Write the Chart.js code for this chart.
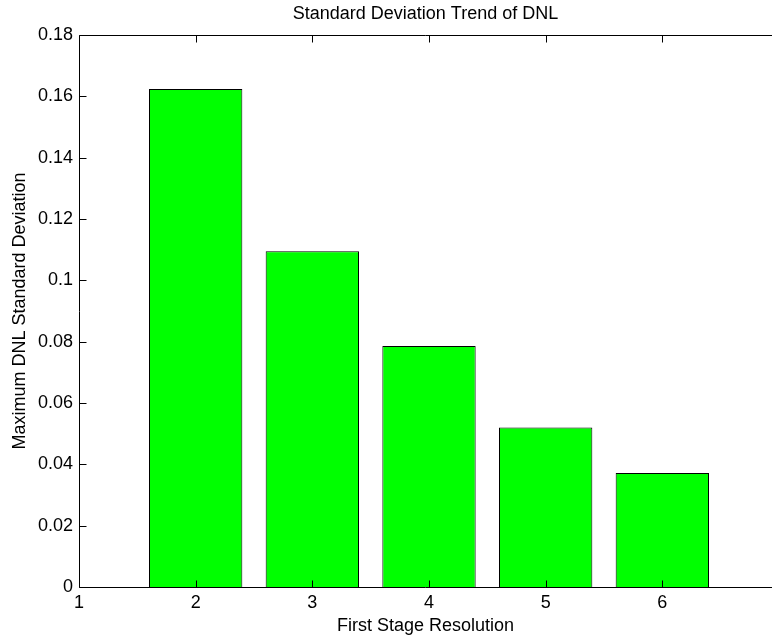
<!DOCTYPE html>
<html>
<head>
<meta charset="utf-8">
<script src="https://cdn.jsdelivr.net/npm/chart.js@4/dist/chart.umd.min.js"></script>
<style>
    html, body { margin: 0; padding: 0; background: #fff; overflow: hidden; }
    #wrap { position: absolute; left: 0; top: 0; width: 772px; height: 641px; }
</style>
</head>
<body>
<div id="wrap"><canvas id="chart" width="772" height="641"></canvas></div>
<script>
const resolutions = [2, 3, 4, 5, 6];
const dnlStdDev = [0.1624, 0.1095, 0.0786, 0.0520, 0.0372];
const xTicks = [1, 2, 3, 4, 5, 6];
const yTicks = [0, 0.02, 0.04, 0.06, 0.08, 0.1, 0.12, 0.14, 0.16, 0.18];

const fontFamily = '"Liberation Sans", Arial, Helvetica, sans-serif';
const fontSize = 18;
const xMin = 1, xMax = 6.94; // axes run to 7, just past the right edge of the picture

// MATLAB style axes with inward ticks; the right side of the box is off the picture
const boxAxes = {
    id: 'boxAxes',
    afterDatasetsDraw(chart) {
        const { ctx, chartArea: a, scales: { x, y } } = chart;
        const tick = 7;
        const L = Math.round(a.left) + 0.5;
        const T = Math.round(a.top) + 0.5, B = Math.round(a.bottom) + 0.5;
        const W = chart.width;
        ctx.save();
        ctx.strokeStyle = '#000';
        ctx.lineWidth = 1;
        ctx.beginPath();
        ctx.moveTo(W, T); ctx.lineTo(L, T); ctx.lineTo(L, B); ctx.lineTo(W, B);
        xTicks.forEach(v => {
            const px = Math.round(x.getPixelForValue(v)) + 0.5;
            ctx.moveTo(px, B); ctx.lineTo(px, B - tick);
            ctx.moveTo(px, T); ctx.lineTo(px, T + tick);
        });
        yTicks.forEach(v => {
            const py = Math.round(y.getPixelForValue(v)) + 0.5;
            ctx.moveTo(L, py); ctx.lineTo(L + tick, py);
        });
        ctx.stroke();
        ctx.restore();
    }
};

new Chart(document.getElementById('chart'), {
    type: 'bar',
    data: {
        datasets: [{
            data: resolutions.map((r, i) => ({ x: r, y: dnlStdDev[i] })),
            backgroundColor: '#00ff00',
            borderColor: '#000000',
            borderWidth: 1,
            categoryPercentage: 0.8,
            barPercentage: 1.0
        }]
    },
    options: {
        responsive: false,
        animation: false,
        devicePixelRatio: 1,
        layout: { padding: 0 },
        plugins: {
            legend: { display: false },
            tooltip: { enabled: false }
        },
        scales: {
            x: {
                type: 'linear',
                min: xMin,
                max: xMax,
                offset: false,
                grid: { display: false, drawTicks: false },
                border: { display: false },
                afterBuildTicks: (scale) => { scale.ticks = xTicks.map(v => ({ value: v })); },
                afterFit: (scale) => { scale.height = 54; },
                ticks: {
                    color: '#000',
                    padding: 5,
                    maxRotation: 0,
                    autoSkip: false,
                    font: { family: fontFamily, size: fontSize },
                    callback: (v) => String(v)
                },
                title: {
                    display: true,
                    text: 'First Stage Resolution',
                    color: '#000',
                    font: { family: fontFamily, size: fontSize },
                    padding: { top: 0, bottom: 4 }
                }
            },
            // top axis only carries the chart title, centred over the axes
            xTop: {
                type: 'linear',
                position: 'top',
                min: xMin,
                max: xMax,
                grid: { display: false, drawTicks: false },
                border: { display: false },
                ticks: { display: false },
                afterFit: (scale) => { scale.height = 35; },
                title: {
                    display: true,
                    text: 'Standard Deviation Trend of DNL',
                    color: '#000',
                    font: { family: fontFamily, size: fontSize },
                    padding: { top: 3, bottom: 0 }
                }
            },
            y: {
                min: 0,
                max: 0.18,
                grid: { display: false, drawTicks: false },
                border: { display: false },
                afterBuildTicks: (scale) => { scale.ticks = yTicks.map(v => ({ value: v })); },
                afterFit: (scale) => { scale.width = 79; },
                ticks: {
                    color: '#000',
                    padding: 6,
                    autoSkip: false,
                    font: { family: fontFamily, size: fontSize },
                    callback: (v) => String(Number(v.toFixed(2)))
                },
                title: {
                    display: true,
                    text: 'Maximum DNL Standard Deviation',
                    color: '#000',
                    font: { family: fontFamily, size: fontSize },
                    padding: { top: 9, bottom: 0 }
                }
            }
        }
    },
    plugins: [boxAxes]
});
</script>
</body>
</html>
